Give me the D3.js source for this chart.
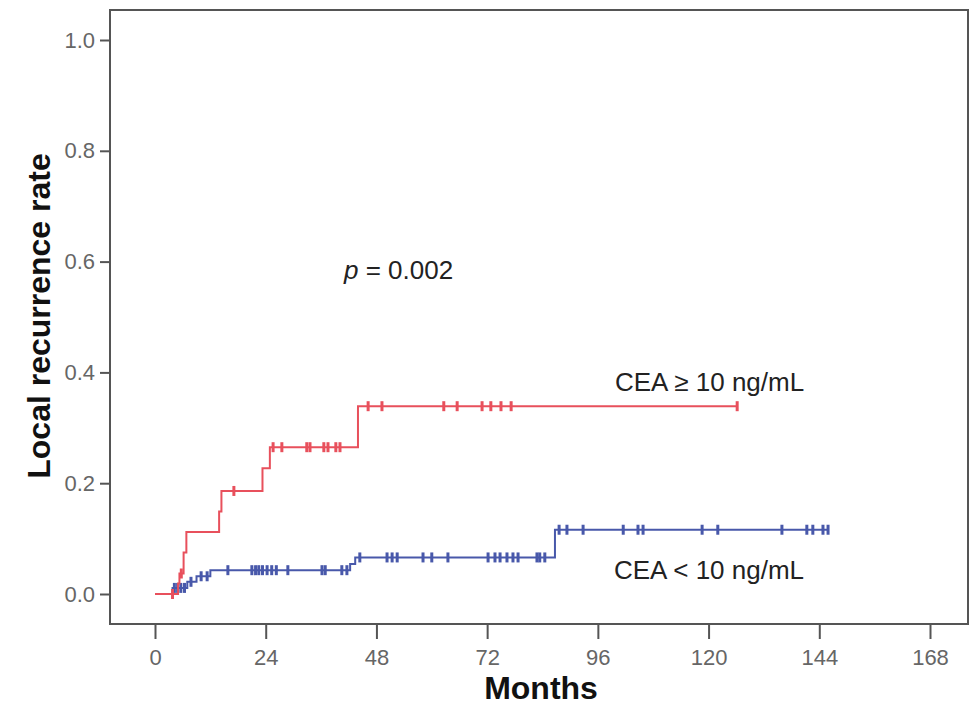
<!DOCTYPE html>
<html>
<head>
<meta charset="utf-8">
<script src="https://cdn.jsdelivr.net/npm/d3@7"></script>
<style>
  body { margin: 0; background: #fff; }
  svg { display: block; font-family: "Liberation Sans", Arial, sans-serif; }
</style>
</head>
<body>
<div id="chart"></div>
<script>
// x ticks (months) and y ticks (rate)
const monthTicks = [0, 24, 48, 72, 96, 120, 144, 168];
const rateTicks = [0.0, 0.2, 0.4, 0.6, 0.8, 1.0];

// CEA >= 10 ng/mL : step times and cumulative rate after each step
const redStepMonths = [0, 5.0, 5.3, 6.2, 6.8, 13.9, 14.4, 23.3, 24.9, 44.0];
const redStepRates  = [0, 0.019, 0.037, 0.075, 0.112, 0.149, 0.186, 0.227, 0.265, 0.339];
const redEnd = 126.2;
const redCensorMonths = [3.8, 5.7, 17.1, 25.6, 27.5, 32.9, 33.6, 36.6, 37.5, 39.2, 40.1,
  46.2, 49.2, 62.6, 65.5, 70.9, 72.8, 75.0, 77.2, 126.2];

// CEA < 10 ng/mL
const blueStepMonths = [0, 3.8, 7.0, 9.0, 12.0, 42.3, 43.4, 86.7];
const blueStepRates  = [0, 0.011, 0.022, 0.032, 0.043, 0.054, 0.066, 0.116];
const blueEnd = 145.9;
const blueCensorMonths = [4.2, 4.9, 5.6, 6.4, 7.8, 10.0, 11.3, 15.8, 21.0, 21.8, 22.5, 23.3,
  24.3, 25.3, 26.3, 28.8, 36.2, 36.9, 40.5, 41.6, 44.4, 50.3, 51.4, 52.5, 58.1, 60.0, 63.5,
  72.2, 73.7, 74.8, 76.3, 77.6, 78.7, 82.8, 83.4, 84.5, 87.6, 89.3, 92.8, 101.5, 104.7,
  105.8, 118.6, 122.0, 135.9, 141.3, 142.6, 144.8, 145.9];

const width = 978, height = 708;
const svg = d3.select("#chart").append("svg")
  .attr("width", width)
  .attr("height", height);

const x = d3.scaleLinear().domain([0, 168]).range([155, 930]);
const y = d3.scaleLinear().domain([0, 1]).range([594, 40]);

// frame
const frame = { left: 110, top: 10, right: 968, bottom: 624 };
svg.append("rect")
  .attr("x", frame.left).attr("y", frame.top)
  .attr("width", frame.right - frame.left)
  .attr("height", frame.bottom - frame.top)
  .attr("fill", "none")
  .attr("stroke", "#555")
  .attr("stroke-width", 2);

// y axis
const yAxis = d3.axisLeft(y).tickValues(rateTicks).tickFormat(d3.format(".1f"))
  .tickSize(10).tickPadding(5);
const gy = svg.append("g").attr("transform", `translate(${frame.left},0)`).call(yAxis);
gy.select(".domain").remove();
gy.selectAll("line").attr("stroke", "#555").attr("stroke-width", 2);
gy.selectAll("text").attr("font-size", 22).attr("fill", "#666")
  .attr("font-family", "Liberation Sans, Arial, sans-serif");

// x axis
const xAxis = d3.axisBottom(x).tickValues(monthTicks).tickSize(15).tickPadding(10);
const gx = svg.append("g").attr("transform", `translate(0,${frame.bottom})`).call(xAxis);
gx.select(".domain").remove();
gx.selectAll("line").attr("stroke", "#555").attr("stroke-width", 2);
gx.selectAll("text").attr("font-size", 22).attr("fill", "#666")
  .attr("font-family", "Liberation Sans, Arial, sans-serif");

// axis titles
svg.append("text")
  .attr("x", 541).attr("y", 699)
  .attr("text-anchor", "middle")
  .attr("font-size", 32).attr("font-weight", "bold").attr("fill", "#111")
  .text("Months");

svg.append("text")
  .attr("transform", "translate(50,316) rotate(-90)")
  .attr("text-anchor", "middle")
  .attr("font-size", 32).attr("font-weight", "bold").attr("fill", "#111")
  .text("Local recurrence rate");

// step curves
function rateAt(months, rates, t) {
  let r = rates[0];
  months.forEach((m, i) => { if (m <= t) r = rates[i]; });
  return r;
}

function drawCurve(months, rates, end, censors, color) {
  const pts = months.map((m, i) => [m, rates[i]]);
  pts.push([end, rates[rates.length - 1]]);
  const line = d3.line().x(d => x(d[0])).y(d => y(d[1])).curve(d3.curveStepAfter);
  svg.append("path")
    .datum(pts)
    .attr("d", line)
    .attr("fill", "none")
    .attr("stroke", color)
    .attr("stroke-width", 2);

  svg.append("g").selectAll("line")
    .data(censors)
    .join("line")
    .attr("x1", d => x(d)).attr("x2", d => x(d))
    .attr("y1", d => y(rateAt(months, rates, d)) - 5)
    .attr("y2", d => y(rateAt(months, rates, d)) + 5)
    .attr("stroke", color)
    .attr("stroke-width", 3);
}

drawCurve(blueStepMonths, blueStepRates, blueEnd, blueCensorMonths, "#4858aa");
drawCurve(redStepMonths, redStepRates, redEnd, redCensorMonths, "#e8505c");

// annotations
const pText = svg.append("text")
  .attr("x", 344).attr("y", 279)
  .attr("font-size", 26).attr("fill", "#222");
pText.append("tspan").attr("font-style", "italic").text("p");
pText.append("tspan").text(" = 0.002");

svg.append("text")
  .attr("x", 615).attr("y", 391)
  .attr("font-size", 26).attr("fill", "#222")
  .text("CEA \u2265 10 ng/mL");

svg.append("text")
  .attr("x", 614).attr("y", 579)
  .attr("font-size", 26).attr("fill", "#222")
  .text("CEA < 10 ng/mL");
</script>
</body>
</html>
